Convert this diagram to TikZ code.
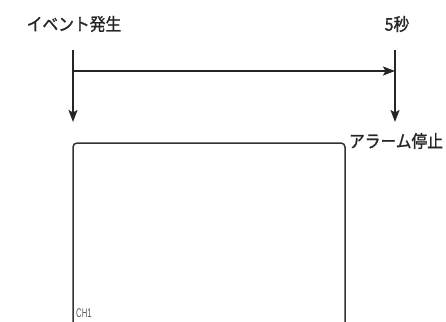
\documentclass[tikz,border=0pt]{standalone}
\usepackage{fontspec}
\setmainfont{Noto Sans CJK JP}
\newfontfamily\jpfont{Noto Sans CJK JP}[FakeBold=1.2]
\newfontfamily\chfont{Liberation Sans}
\usepackage{tikz}
\usetikzlibrary{arrows.meta,positioning,calc}

\newcommand{\jptext}[1]{\scalebox{0.9}[1]{#1}}

\begin{document}
\begin{tikzpicture}[
    x=1pt, y=-1pt,
    caption/.style={inner sep=0pt, font=\jpfont\fontsize{17.5}{19}\selectfont, text=black!85},
    arrow/.style={-{Stealth[length=12pt, width=9pt, inset=2.5pt]}, line width=1.6pt, draw=black!85},
    screen/.style={line width=1.5pt, draw=black!80, rounded corners=4pt}
]
    \useasboundingbox (0,0) rectangle (446,321);

    % labels
    \node [caption] (event) at (74,24) {\jptext{イベント発生}};
    \node [caption] (fivesec) at (397,24) {\jptext{5秒}};
    \node [caption] (stop) at (396,141) {\jptext{アラーム停止}};

    % time line
    \coordinate (evtop) at (73,50);
    \coordinate (evbot) at (73,122);
    \coordinate (sectop) at (395,50);
    \coordinate (secbot) at (395,122);
    \coordinate (evmid) at (73,71);
    \coordinate (secmid) at (395,71);

    \draw [arrow] (evtop) -- (evbot);
    \draw [arrow] (sectop) -- (secbot);
    \draw [arrow] (evmid) -- (secmid);

    % monitor screen
    \coordinate (scrbl) at (73,322);
    \coordinate (scrtl) at (73,143);
    \coordinate (scrtr) at (345,143);
    \coordinate (scrbr) at (345,322);
    \draw [screen] (scrbl) -- (scrtl) -- (scrtr) -- (scrbr);
    \node [anchor=south west, inner sep=0pt, text=black!65, font=\chfont\fontsize{12.5}{13}\selectfont] (ch) at (76,318) {\scalebox{0.62}[1]{CH1}};
\end{tikzpicture}
\end{document}
